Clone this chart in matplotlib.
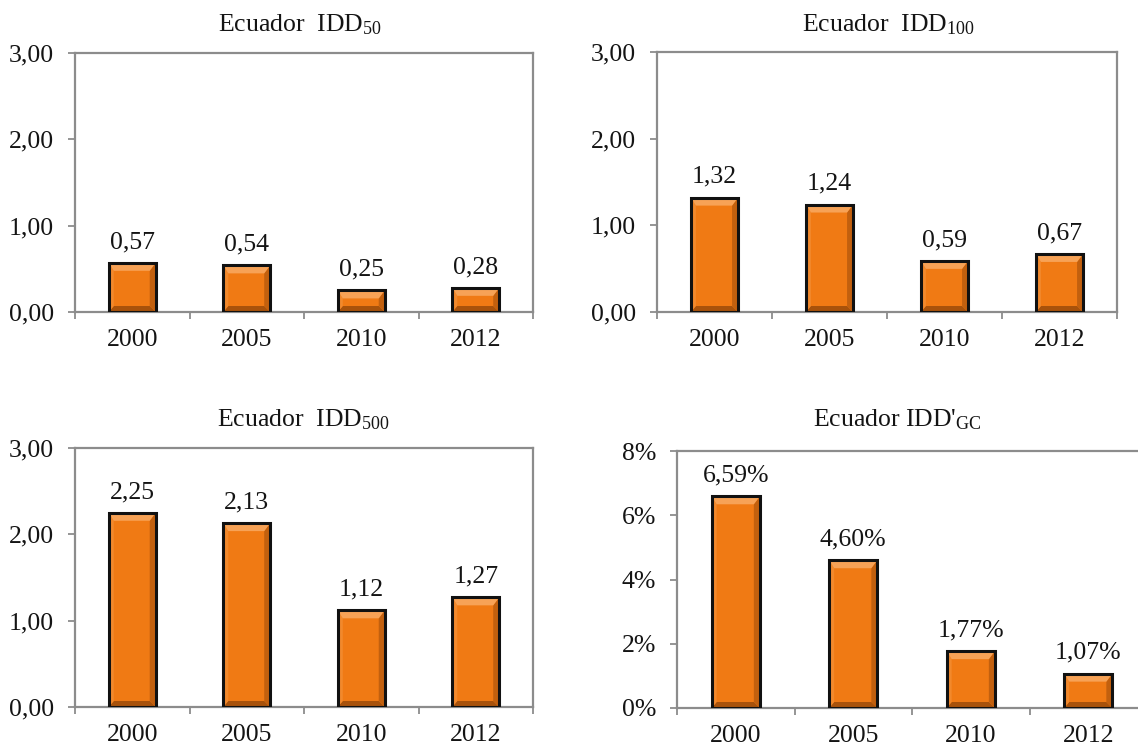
import matplotlib

matplotlib.use("Agg")
import matplotlib.pyplot as plt
from matplotlib.patches import Polygon
from matplotlib.ticker import FixedLocator, FuncFormatter

YEARS = ["2000", "2005", "2010", "2012"]
IDD_50 = [0.57, 0.54, 0.25, 0.28]
IDD_100 = [1.32, 1.24, 0.59, 0.67]
IDD_500 = [2.25, 2.13, 1.12, 1.27]
IDD_GC = [6.59, 4.60, 1.77, 1.07]  # percent

W, H = 1138, 751
FS = 18.5
ORANGE = "#F07A14"
FACE_TOP = "#F7A256"
FACE_LEFT = "#F2892C"
FACE_RIGHT = "#C2600E"
FACE_BOTTOM = "#A8520B"
AXIS_GRAY = "#8C8C8C"
TEXT = "#141414"

plt.rcParams["font.family"] = "Liberation Serif"
plt.rcParams["mathtext.fontset"] = "custom"
plt.rcParams["mathtext.rm"] = "Liberation Serif"
plt.rcParams["mathtext.it"] = "Liberation Serif:italic"


def box(left, top, right, bottom):
    # pixel box -> figure fraction [l, b, w, h]
    return [left / W, 1 - bottom / H, (right - left) / W, (bottom - top) / H]


def comma(v, fmt):
    return fmt.format(v).replace(".", ",")


def bevel(ax, x, w, h, dl=5, dt=8, dr=6, db=6):
    """Shade the four inner faces of a bar so it looks raised."""
    fwd = ax.transData.transform
    inv = ax.transData.inverted().transform
    (x0, y0), (x1, y1) = fwd([(x, 0), (x + w, h)])
    o = [(x0, y0), (x1, y0), (x1, y1), (x0, y1)]
    i = [(x0 + dl, y0 + db), (x1 - dr, y0 + db), (x1 - dr, y1 - dt), (x0 + dl, y1 - dt)]
    faces = [
        ([o[0], o[1], i[1], i[0]], FACE_BOTTOM),
        ([o[1], o[2], i[2], i[1]], FACE_RIGHT),
        ([o[3], o[0], i[0], i[3]], FACE_LEFT),
        ([o[2], o[3], i[3], i[2]], FACE_TOP),
    ]
    for pts, c in faces:
        ax.add_patch(Polygon(inv(pts), closed=True, facecolor=c, edgecolor="none", zorder=3))


def panel(fig, values, rect, ymax, ystep, tick_fmt, label_fmt, title, title_xy):
    ax = fig.add_axes(rect)
    xs = range(len(YEARS))
    ax.set_xlim(-0.5, len(YEARS) - 0.5)
    ax.set_ylim(0, ymax)

    bars = ax.bar(xs, values, width=0.41, color=ORANGE, edgecolor="none", zorder=2)
    for b in bars:
        bevel(ax, b.get_x(), b.get_width(), b.get_height())
    ax.bar(xs, values, width=0.41, fill=False, edgecolor="#111111", lw=2.2, zorder=4)

    for x, v in zip(xs, values):
        ax.annotate(label_fmt(v), (x, v), xytext=(0, 7), textcoords="offset points",
                    ha="center", va="bottom", fontsize=FS, color=TEXT)

    yt = [k * ystep for k in range(int(round(ymax / ystep)) + 1)]
    ax.yaxis.set_major_locator(FixedLocator(yt))
    ax.yaxis.set_major_formatter(FuncFormatter(lambda v, _: tick_fmt(v)))
    ax.set_xticks(list(xs))
    ax.set_xticklabels(YEARS)
    ax.xaxis.set_minor_locator(FixedLocator([k - 0.5 for k in range(len(YEARS) + 1)]))

    ax.tick_params(axis="y", direction="out", length=5, width=1.3, color=AXIS_GRAY,
                   labelsize=FS, labelcolor=TEXT, pad=10)
    ax.tick_params(axis="x", which="major", length=0, labelsize=FS, labelcolor=TEXT, pad=12)
    ax.tick_params(axis="x", which="minor", direction="out", length=5, width=1.3, color=AXIS_GRAY)
    for s in ax.spines.values():
        s.set_color(AXIS_GRAY)
        s.set_linewidth(1.6)

    fig.text(title_xy[0] / W, 1 - title_xy[1] / H, title, ha="center", va="center",
             fontsize=FS, color=TEXT)
    return ax


def main():
    fig = plt.figure(figsize=(W / 100, H / 100), dpi=100)
    num_tick = lambda v: comma(v, "{:.2f}")
    pct_tick = lambda v: "{:.0f}%".format(v)
    pct_label = lambda v: comma(v, "{:.2f}") + "%"

    panel(fig, IDD_50, box(75, 53, 533, 312), 3, 1, num_tick, num_tick,
          r"Ecuador  IDD$_{50}$", (300, 25))
    panel(fig, IDD_100, box(657, 52, 1117, 312), 3, 1, num_tick, num_tick,
          r"Ecuador  IDD$_{100}$", (888, 25))
    panel(fig, IDD_500, box(75, 448, 533, 707), 3, 1, num_tick, num_tick,
          r"Ecuador  IDD$_{500}$", (303, 420))
    panel(fig, IDD_GC, box(677, 451, 1147, 708), 8, 2, pct_tick, pct_label,
          r"Ecuador IDD'$_{\mathrm{GC}}$", (897, 420))

    fig.savefig("out.png", dpi=100)
    plt.close(fig)


if __name__ == "__main__":
    main()
